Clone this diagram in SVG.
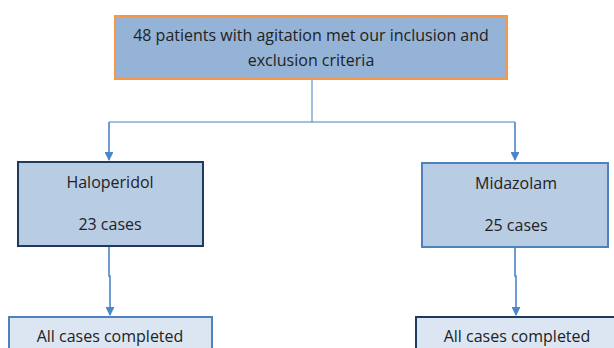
<svg xmlns="http://www.w3.org/2000/svg" width="614" height="348" viewBox="0 0 614 348">
<defs>
<style>
text{font-family:"Open Sans","Liberation Sans",sans-serif;font-size:16px;fill:#222;text-anchor:middle}
.conn{fill:none;stroke:#4a86c8;stroke-width:1.6}
.thin{fill:none;stroke:#4a7fbf;stroke-width:1}
</style>
<marker id="ah" viewBox="0 0 10 10" refX="9" refY="5" markerWidth="5.5" markerHeight="5.5" orient="auto" markerUnits="strokeWidth">
<path d="M0,0 L10,5 L0,10 z" fill="#4a86c8"/>
</marker>
</defs>
<g id="connectors">
<path class="thin" d="M312,79 V122"/>
<path class="thin" d="M109,122 H515"/>
<path class="conn" d="M109,122 V160" marker-end="url(#ah)"/>
<path class="conn" d="M515,122 V160" marker-end="url(#ah)"/>
<path class="conn" d="M109,247 V276 H110 V315" marker-end="url(#ah)"/>
<path class="conn" d="M515,247 V276 H516 V315" marker-end="url(#ah)"/>
</g>
<g id="n_top">
<rect x="115" y="16" width="392" height="63" fill="#95b3d7" stroke="#f79646" stroke-width="2"/>
<text x="311" y="41">48 patients with agitation met our inclusion and</text>
<text x="311" y="66">exclusion criteria</text>
</g>
<g id="n_halo">
<rect x="18" y="162" width="185" height="84" fill="#b8cce4" stroke="#1f3a5f" stroke-width="2"/>
<text x="110" y="188">Haloperidol</text>
<text x="110" y="230">23 cases</text>
</g>
<g id="n_mida">
<rect x="422" y="163" width="186" height="84" fill="#b8cce4" stroke="#4f81bd" stroke-width="2"/>
<text x="516" y="189">Midazolam</text>
<text x="516" y="231">25 cases</text>
</g>
<g id="n_halo_done">
<rect x="9" y="317" width="203" height="40" fill="#dce6f2" stroke="#4f81bd" stroke-width="2"/>
<text x="110" y="342">All cases completed</text>
</g>
<g id="n_mida_done">
<rect x="416" y="317" width="206" height="40" fill="#dce6f2" stroke="#1f3a5f" stroke-width="2"/>
<text x="517" y="342">All cases completed</text>
</g>
</svg>
